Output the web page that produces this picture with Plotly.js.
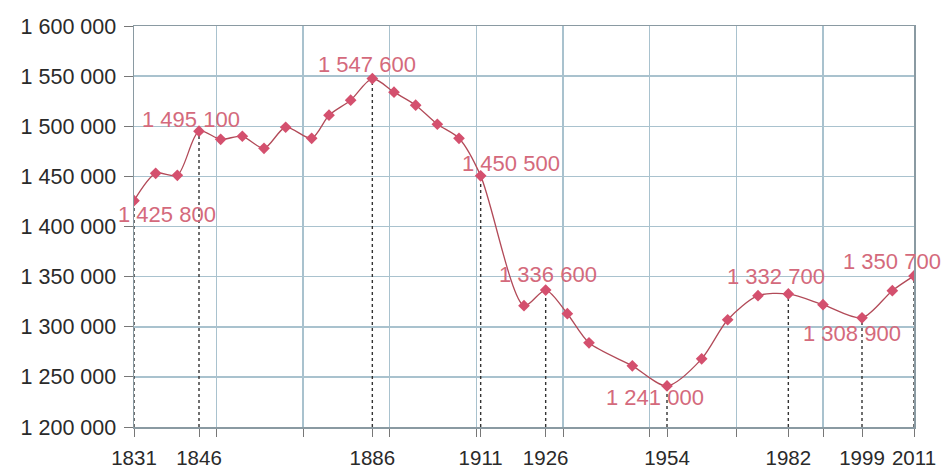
<!DOCTYPE html>
<html>
<head>
<meta charset="utf-8">
<script src="https://cdn.plot.ly/plotly-3.0.1.min.js"></script>
<style>html,body{margin:0;padding:0;background:#fff;}#chart{width:945px;height:475px;}</style>
</head>
<body>
<div id="chart"></div>
<script>
// Census years and population
const years = [1831,1836,1841,1846,1851,1856,1861,1866,1872,1876,1881,1886,1891,1896,1901,1906,1911,1921,1926,1931,1936,1946,1954,1962,1968,1975,1982,1990,1999,2006,2011];
const population = [1425800,1453000,1451000,1495100,1487000,1490000,1478000,1499000,1488000,1511000,1526000,1547600,1534000,1521000,1502000,1488000,1450500,1321000,1336600,1313000,1284000,1261000,1241000,1268000,1307000,1331000,1332700,1322000,1308900,1336000,1350700];

// Highlighted years (tick labels and value labels)
const labelYears = [1831,1846,1886,1911,1926,1954,1982,1999,2011];
const labelText = ["1 425 800","1 495 100","1 547 600","1 450 500","1 336 600","1 241 000","1 332 700","1 308 900","1 350 700"];
const tickLabels = ["1831","1846","1886","1911","1926","1954","1982","1999","2011"];

// vertical grid years
const gridYears = [1850,1870,1890,1910,1930,1950,1970,1990];

// label offsets (styling only, in pixels: [xshift, yshift])
const labelShift = [[33,-14],[-8,12],[-5,14],[30,12],[2,16],[-12,-12],[-12,17],[-10,-16],[-22,14]];

const yMin = 1200000, yMax = 1600000;

function valueAt(yr){ return population[years.indexOf(yr)]; }

// dotted drop lines
const dropX = [], dropY = [];
labelYears.forEach(yr => { dropX.push(yr, yr, null); dropY.push(yMin, valueAt(yr), null); });

const textColor = '#d46a7c';
const fam = 'Liberation Sans, Arial, sans-serif';

const traces = [
  {x: dropX, y: dropY, mode: 'lines', line: {color: '#333', width: 1.4, dash: 'dot'}, hoverinfo: 'skip', showlegend: false},
  {x: years, y: population, mode: 'lines+markers',
   line: {color: '#b24a58', width: 1.3, shape: 'spline', smoothing: 0.8},
   marker: {symbol: 'diamond', size: 9, color: '#d4506e'}, showlegend: false}
];

const annotations = labelYears.map((yr, i) => ({
  x: yr, y: valueAt(yr), text: labelText[i], showarrow: false,
  xshift: labelShift[i][0], yshift: labelShift[i][1],
  font: {family: fam, size: 22, color: textColor}
}));

const gridColor = '#a9c2ce';

const layout = {
  width: 945, height: 475,
  margin: {l: 134, r: 31, t: 26, b: 48},
  paper_bgcolor: '#ffffff', plot_bgcolor: '#ffffff',
  separators: ', ',
  showlegend: false,
  xaxis: {
    range: [1831, 2011], tickmode: 'array', tickvals: labelYears, ticktext: tickLabels,
    showgrid: false, zeroline: false, ticks: 'outside', ticklen: 8, tickcolor: '#777',
    showline: true, linecolor: '#8a9aa2', linewidth: 1.5, mirror: true,
    tickfont: {family: fam, size: 20.5, color: '#2a2a2a'}, ticklabelstandoff: 4,
    minor: {tickmode: 'array', tickvals: gridYears, showgrid: true, gridcolor: gridColor, gridwidth: 1.5, ticks: 'outside', ticklen: 8, tickcolor: '#777'}
  },
  yaxis: {
    range: [yMin, yMax], tick0: yMin, dtick: 50000, tickformat: ',d',
    showgrid: true, gridcolor: gridColor, gridwidth: 1.5, zeroline: false,
    ticks: 'outside', ticklen: 9, tickcolor: '#777',
    showline: true, linecolor: '#8a9aa2', linewidth: 1.5, mirror: true,
    tickfont: {family: fam, size: 21.5, color: '#2a2a2a'}, ticklabelstandoff: 3
  },
  annotations: annotations
};

Plotly.newPlot('chart', traces, layout, {displayModeBar: false, staticPlot: true});
</script>
</body>
</html>
